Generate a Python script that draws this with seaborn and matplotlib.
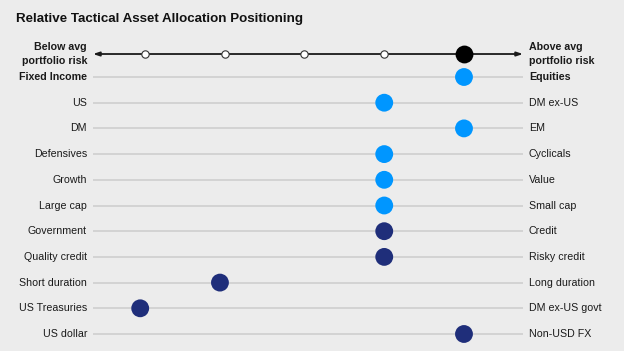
import matplotlib
matplotlib.use("Agg")
import matplotlib.pyplot as plt
import seaborn as sns
import pandas as pd

# ---- data ----
title = "Relative Tactical Asset Allocation Positioning"
left_labels = ["Fixed Income", "US", "DM", "Defensives", "Growth", "Large cap",
               "Government", "Quality credit", "Short duration", "US Treasuries", "US dollar"]
right_labels = ["Equities", "DM ex-US", "EM", "Cyclicals", "Value", "Small cap",
                "Credit", "Risky credit", "Long duration", "DM ex-US govt", "Non-USD FX"]
positions = [5, 4, 5, 4, 4, 4, 4, 4, 1.94, 0.94, 5]
groups = ["Equity", "Equity", "Equity", "Equity", "Equity", "Equity",
          "Fixed", "Fixed", "Fixed", "Fixed", "Fixed"]
scale_points = [1, 2, 3, 4]
overall_risk = 5
axis_left_label = "Below avg\nportfolio risk"
axis_right_label = "Above avg\nportfolio risk"

palette = {"Equity": "#0096ff", "Fixed": "#1f2e7a"}
bg = "#ececec"

sns.set_theme(style="white")
plt.rcParams["font.family"] = ["Liberation Sans", "DejaVu Sans"]

df = pd.DataFrame({"left": left_labels, "right": right_labels, "pos": positions,
                   "group": groups, "row": list(range(len(left_labels)))})

W, H = 624, 351
fig = plt.figure(figsize=(W / 100, H / 100), dpi=100)
fig.patch.set_facecolor(bg)

# axes spans x pixels 93..523, y pixels 40..348
ax = fig.add_axes([93 / W, 1 - 348 / H, 430 / W, 308 / H])
ax.set_facecolor(bg)
XLIM = (0.348, 5.74)
YLIM = (10.545, -1.44)

axis_row = -0.895
x0, x1 = XLIM

# gray row lines
for r in df["row"]:
    ax.plot([x0, x1], [r, r], color="#cfcfcf", lw=1.2, zorder=1, solid_capstyle="butt")

# top arrow axis
ax.annotate("", xy=(x1, axis_row), xytext=(x0, axis_row),
            arrowprops=dict(arrowstyle="<|-|>,head_length=0.3,head_width=0.1",
                            color="#1a1a1a", lw=1.3, shrinkA=0, shrinkB=0), zorder=2)
top = pd.DataFrame({"x": scale_points, "y": [axis_row] * len(scale_points)})
sns.scatterplot(data=top, x="x", y="y", ax=ax, s=28, color="white",
                edgecolor="#333333", linewidth=0.8, zorder=3, legend=False)
sns.scatterplot(x=[overall_risk], y=[axis_row], ax=ax, s=165, color="black",
                edgecolor="black", linewidth=0, zorder=4, legend=False)

# positioning dots
sns.scatterplot(data=df, x="pos", y="row", hue="group", palette=palette, ax=ax,
                s=165, linewidth=0, zorder=4, legend=False)
ax.set_xlim(*XLIM)
ax.set_ylim(*YLIM)
ax.axis("off")

lx = x0 - 6 / 79.75
rx = x1 + 6 / 79.75
fs = 7.7
for i, row in df.iterrows():
    bold = "bold" if i == 0 else "normal"
    ax.text(lx, row["row"], row["left"], ha="right", va="center", fontsize=fs,
            fontweight=bold, color="#1a1a1a", clip_on=False)
    ax.text(rx, row["row"], row["right"], ha="left", va="center", fontsize=fs,
            fontweight=bold, color="#1a1a1a", clip_on=False)

ax.text(lx, axis_row, axis_left_label, ha="right", va="center", fontsize=fs,
        fontweight="bold", color="#1a1a1a", linespacing=1.55, clip_on=False,
        multialignment="right")
ax.text(rx, axis_row, axis_right_label, ha="left", va="center", fontsize=fs,
        fontweight="bold", color="#1a1a1a", linespacing=1.55, clip_on=False,
        multialignment="left")

fig.text(16 / W, 1 - 19 / H, title, ha="left", va="center", fontsize=9.6,
         fontweight="bold", color="#111111")

fig.savefig("out.png", dpi=100, facecolor=bg)
